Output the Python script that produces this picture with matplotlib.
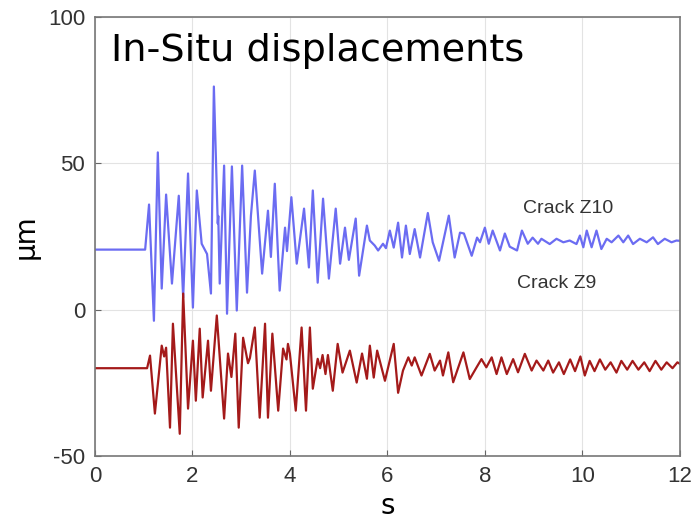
"""In-situ crack displacement traces (Z10 / Z9)."""

import matplotlib

matplotlib.use("Agg", force=True)

import matplotlib.pyplot as plt

plt.rcParams["axes.unicode_minus"] = False

# Crack Z10 (upper trace): time [s], displacement [um]
z10_t = [0.0, 1.03, 1.11, 1.21, 1.29, 1.37, 1.46, 1.58, 1.72, 1.81, 1.91, 2.01, 2.09, 2.19, 2.30,
         2.38, 2.44, 2.52, 2.53, 2.56, 2.65, 2.71, 2.81, 2.91, 3.02, 3.12, 3.20, 3.28, 3.43, 3.55,
         3.61, 3.69, 3.79, 3.90, 3.94, 4.03, 4.14, 4.29, 4.39, 4.47, 4.57, 4.68, 4.80, 4.94, 5.03,
         5.13, 5.21, 5.35, 5.42, 5.58, 5.64, 5.74, 5.81, 5.91, 5.97, 6.05, 6.13, 6.22, 6.30, 6.38,
         6.46, 6.56, 6.67, 6.83, 6.93, 7.06, 7.26, 7.38, 7.49, 7.57, 7.73, 7.84, 7.90, 8.00, 8.08,
         8.16, 8.31, 8.41, 8.51, 8.66, 8.76, 8.88, 8.98, 9.09, 9.16, 9.33, 9.47, 9.61, 9.74, 9.88,
         9.95, 10.02, 10.09, 10.19, 10.29, 10.39, 10.50, 10.60, 10.74, 10.84, 10.94, 11.04, 11.18,
         11.32, 11.45, 11.55, 11.69, 11.83, 11.93, 12.0]
z10_um = [20.5, 20.5, 35.9, -3.8, 53.7, 7.2, 39.3, 8.9, 38.9, 4.1, 46.5, 0.7, 40.7, 22.5, 19.0,
          5.5, 76.2, 29.4, 32.0, 8.9, 49.2, -1.4, 48.9, -0.3, 49.2, 5.8, 32.0, 47.5, 12.3, 33.8,
          18.0, 43.0, 6.5, 28.0, 20.0, 38.4, 15.7, 34.5, 14.4, 40.7, 9.2, 37.9, 10.6, 34.5, 15.7,
          28.0, 17.0, 31.1, 11.6, 28.7, 23.6, 21.9, 20.2, 22.5, 21.0, 27.0, 21.2, 29.7, 17.8, 28.7,
          19.0, 27.5, 17.8, 33.0, 23.0, 16.7, 32.1, 17.8, 26.3, 26.0, 18.4, 24.6, 23.0, 28.0, 22.5,
          27.0, 20.2, 26.0, 21.5, 20.2, 27.0, 22.5, 24.6, 22.5, 24.2, 22.4, 24.2, 23.0, 23.6, 22.4,
          25.3, 21.3, 27.0, 21.3, 27.0, 20.7, 24.2, 23.0, 25.3, 23.0, 25.3, 22.4, 24.2,
          23.0, 24.7, 22.4, 24.2, 23.0, 23.6, 23.5]

# Crack Z9 (lower trace)
z9_t = [0.0, 1.07, 1.13, 1.23, 1.37, 1.42, 1.46, 1.54, 1.60, 1.74, 1.81, 1.91, 2.01, 2.07, 2.15,
        2.21, 2.32, 2.38, 2.50, 2.65, 2.73, 2.80, 2.88, 2.95, 3.04, 3.14, 3.18, 3.28, 3.38, 3.49,
        3.55, 3.64, 3.76, 3.86, 3.93, 3.96, 4.00, 4.12, 4.24, 4.33, 4.41, 4.47, 4.57, 4.62, 4.67,
        4.73, 4.78, 4.88, 4.98, 5.08, 5.23, 5.37, 5.48, 5.58, 5.64, 5.72, 5.79, 5.95, 6.13, 6.22,
        6.32, 6.43, 6.50, 6.56, 6.70, 6.87, 6.97, 7.08, 7.14, 7.25, 7.35, 7.56, 7.69, 7.83, 7.93,
        8.03, 8.14, 8.24, 8.34, 8.45, 8.58, 8.68, 8.82, 8.96, 9.06, 9.20, 9.30, 9.40, 9.52, 9.62,
        9.75, 9.85, 9.96, 10.05, 10.15, 10.25, 10.36, 10.47, 10.58, 10.70, 10.80, 10.92, 11.03,
        11.15, 11.27, 11.38, 11.50, 11.62, 11.73, 11.85, 11.95, 12.0]
z9_um = [-20.0, -20.0, -15.7, -35.5, -12.3, -16.0, -13.0, -40.3, -4.8, -42.4, 5.5, -33.8, -10.6, -31.1, -6.5,
         -30.0, -10.6, -27.7, -2.0, -37.2, -15.0, -23.0, -8.2, -40.3, -9.6, -18.3, -16.5, -6.1, -36.9, -4.8,
         -36.9, -8.2, -34.5, -13.3, -17.0, -11.7, -15.0, -34.5, -6.1, -34.5, -6.1, -27.0, -16.8, -20.0, -15.5,
         -22.0, -15.5, -27.7, -11.7, -21.5, -14.0, -24.9, -15.0, -23.6, -12.3, -23.2, -14.0, -24.3, -11.7, -28.4,
         -20.8, -16.3, -19.1, -16.3, -22.5, -15.1, -20.8, -17.4, -22.5, -14.6, -24.8, -14.6, -23.7, -19.7, -16.9,
         -19.7, -16.3, -22.0, -16.3, -22.0, -16.9, -21.4, -15.1, -20.8, -17.4, -20.8, -17.4, -21.5, -18.0, -22.0,
         -17.0, -21.0, -16.0, -22.5, -17.5, -21.0, -17.0, -20.5, -18.0, -21.5, -17.5, -20.5, -17.5,
         -20.5, -18.0, -21.0, -17.5, -20.5, -18.0, -20.0, -18.0, -18.5]

x_ticks = [0, 2, 4, 6, 8, 10, 12]
y_ticks = [-50, 0, 50, 100]

fig = plt.figure(figsize=(6.93, 5.26), dpi=100)
ax = fig.add_axes([0.137, 0.133, 0.844, 0.835])

ax.plot(z10_t, z10_um, color="#6b6cf2", lw=1.6, solid_joinstyle="round")
ax.plot(z9_t, z9_um, color="#a41a1a", lw=1.6, solid_joinstyle="round")

ax.set_xlim(0, 12)
ax.set_ylim(-50, 100)
ax.set_xticks(x_ticks)
ax.set_yticks(y_ticks)
ax.grid(True, color="#e3e3e3", lw=0.8)
ax.set_axisbelow(True)
ax.tick_params(direction="in", length=4, color="#666666", labelcolor="#333333",
               labelsize=16, pad=7)
for label in ax.get_xticklabels() + ax.get_yticklabels():
	label.set_fontfamily("Liberation Sans")
for spine in ax.spines.values():
	spine.set_color("#777777")
	spine.set_linewidth(1.2)

ax.text(0.32, 88.5, "In-Situ displacements", fontsize=27.5, va="center", ha="left",
        family="DejaVu Sans", color="black")
ax.text(9.7, 34.5, "Crack Z10", fontsize=14, ha="center", va="center",
        family="Liberation Sans", color="#333333")
ax.text(9.48, 8.9, "Crack Z9", fontsize=14, ha="center", va="center",
        family="Liberation Sans", color="#333333")

ax.set_xlabel("s", fontsize=20, labelpad=4)
ax.set_ylabel("μm", fontsize=20, labelpad=6)

fig.savefig("out.png", dpi=100)
